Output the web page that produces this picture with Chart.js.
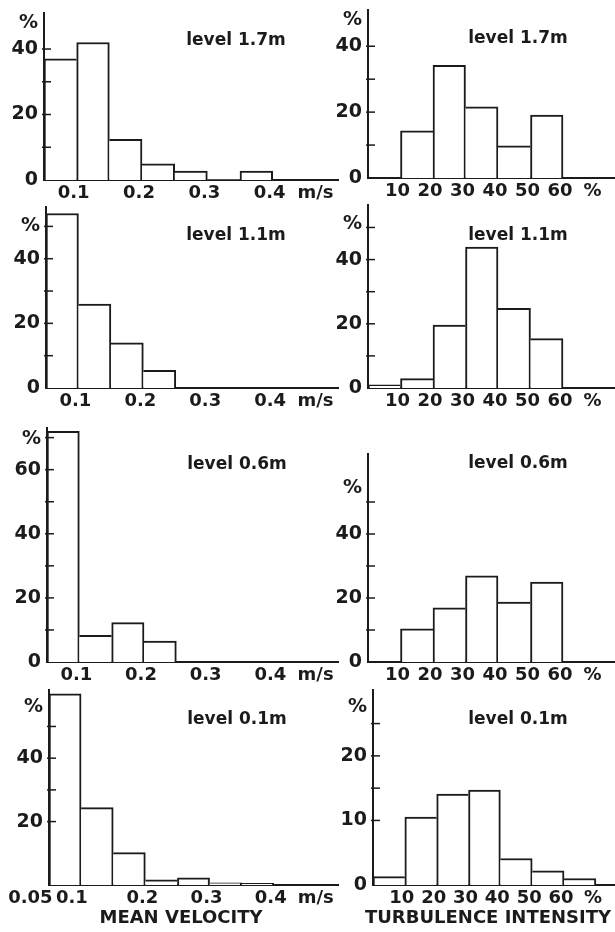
<!DOCTYPE html>
<html>
<head>
<meta charset="utf-8">
<script src="https://cdn.jsdelivr.net/npm/chart.js@4.4.1/dist/chart.umd.min.js"></script>
<style>
  html, body { margin: 0; padding: 0; background: #fff; }
  body { width: 615px; height: 932px; position: relative; overflow: hidden; }
  canvas { position: absolute; }
</style>
</head>
<body>
<script>
// bins (lower edges) and tick labels
const velEdges = [0.05, 0.1, 0.15, 0.2, 0.25, 0.3, 0.35, 0.4];
const turbEdges = [0, 10, 20, 30, 40, 50, 60, 70];
const velTicks = [0.1, 0.2, 0.3, 0.4];
const velTicksLow = [0.05, 0.1, 0.2, 0.3, 0.4];
const turbTicks = [10, 20, 30, 40, 50, 60];
const velUnit = 'm/s';
const turbUnit = '%';
const levels = ['level 1.7m', 'level 1.1m', 'level 0.6m', 'level 0.1m'];
const velAxisTitle = 'MEAN VELOCITY';
const turbAxisTitle = 'TURBULENCE INTENSITY';

// frequencies in %
const vel17 = [37, 42, 12.4, 4.9, 2.7, 0, 2.7];
const vel11 = [54, 26, 14, 5.5];
const vel06 = [72, 8.3, 12.3, 6.5];
const vel01 = [60.3, 24.4, 10.2, 1.6, 2.3, 0.7, 0.5];
const turb17 = [0, 14.3, 34.2, 21.6, 9.8, 19.1];
const turb11 = [1, 2.9, 19.6, 43.9, 24.8, 15.4];
const turb06 = [0, 10.4, 16.9, 26.9, 18.7, 25];
const turb01 = [1.3, 10.5, 14.1, 14.7, 4.1, 2.2, 1.0];

const ink = '#1b1b1b';
const FONT = "'DejaVu Sans', 'Liberation Sans', sans-serif";

// box = canvas [left, top, w, h], area = plot [left, top, right, bottom] in page px
const panels = [
  { kind: 'vel', values: vel17, xTicks: velTicks, title: levels[0], box: [0, 0, 340, 200], area: [44, 13, 338, 180],
    ymax: 51, yLabels: [0, 20, 40], yMarks: [10, 20, 30, 40], unitAt: 48, titlePos: [236, 41] },
  { kind: 'turb', values: turb17, xTicks: turbTicks, title: levels[0], box: [325, 0, 290, 200], area: [368, 10, 615, 178],
    ymax: 51, yLabels: [0, 20, 40], yMarks: [10, 20, 30, 40], unitAt: 48, titlePos: [518, 39] },
  { kind: 'vel', values: vel11, xTicks: velTicks, title: levels[1], box: [0, 198, 340, 217], area: [46, 207, 338, 388],
    ymax: 56, yLabels: [0, 20, 40], yMarks: [10, 20, 30, 40, 50], unitAt: 50, titlePos: [236, 236] },
  { kind: 'turb', values: turb11, xTicks: turbTicks, title: levels[1], box: [325, 198, 290, 217], area: [368, 205, 615, 388],
    ymax: 57, yLabels: [0, 20, 40], yMarks: [10, 20, 30, 40, 50], unitAt: 51, titlePos: [518, 236] },
  { kind: 'vel', values: vel06, xTicks: velTicks, title: levels[2], box: [0, 415, 340, 270], area: [47, 428, 338, 662],
    ymax: 73, yLabels: [0, 20, 40, 60], yMarks: [10, 20, 30, 40, 50, 60, 70], unitAt: 69.6, titlePos: [237, 465] },
  { kind: 'turb', values: turb06, xTicks: turbTicks, title: levels[2], box: [325, 415, 290, 270], area: [368, 454, 615, 662],
    ymax: 65, yLabels: [0, 20, 40], yMarks: [10, 20, 30, 40, 50], unitAt: 54.4, titlePos: [518, 464] },
  { kind: 'vel', values: vel01, xTicks: velTicksLow, title: levels[3], box: [0, 683, 340, 249], area: [49, 690, 338, 885],
    ymax: 61.5, yLabels: [20, 40], yMarks: [20, 30, 40, 50], unitAt: 56, titlePos: [237, 720],
    labelPad: [5, 2], axisTitle: velAxisTitle, axisPos: [181, 918] },
  { kind: 'turb', values: turb01, xTicks: turbTicks, title: levels[3], box: [325, 683, 290, 249], area: [373, 690, 615, 885],
    ymax: 30.2, yLabels: [0, 10, 20], yMarks: [10, 15, 20, 25], unitAt: 27.5, titlePos: [518, 720],
    axisTitle: turbAxisTitle, axisPos: [488, 918] }
];

// draw shared edges only once, from the taller bar
function edgeBorders(ctx) {
  const d = ctx.dataset.data;
  const i = ctx.dataIndex;
  const cur = d[i].y;
  const prev = i > 0 ? d[i - 1].y : 0;
  const next = i < d.length - 1 ? d[i + 1].y : 0;
  return { top: 2, left: cur >= prev ? 2 : 0, right: cur > next ? 2 : 0, bottom: 0 };
}

const panelText = {
  id: 'panelText',
  afterDatasetsDraw(chart, args, o) {
    const { ctx, chartArea } = chart;
    const y = chart.scales.y;
    ctx.save();
    ctx.strokeStyle = ink;
    ctx.lineWidth = 1.5;
    o.marks.forEach(v => {
      const py = y.getPixelForValue(v);
      ctx.beginPath();
      ctx.moveTo(chartArea.left - 2, py);
      ctx.lineTo(chartArea.left + 7, py);
      ctx.stroke();
    });
    ctx.fillStyle = ink;
    ctx.textAlign = 'center';
    ctx.textBaseline = 'middle';
    ctx.font = 'bold 17px ' + FONT;
    ctx.fillText(o.title, o.titleX, o.titleY);
    if (o.axisTitle) {
      ctx.font = 'bold 18px ' + FONT;
      ctx.fillText(o.axisTitle, o.axisX, o.axisY);
    }
    ctx.restore();
  }
};

panels.forEach(p => {
  const [bx, by, bw, bh] = p.box;
  const [al, at, ar, ab] = p.area;
  const isVel = p.kind === 'vel';
  const edges = isVel ? velEdges : turbEdges;
  const step = edges[1] - edges[0];
  const unit = isVel ? velUnit : turbUnit;
  const unitPos = isVel ? 0.47 : 70;
  const pad = p.labelPad || [];

  const canvas = document.createElement('canvas');
  canvas.width = bw;
  canvas.height = bh;
  canvas.style.left = bx + 'px';
  canvas.style.top = by + 'px';
  document.body.appendChild(canvas);

  const points = p.values.map((v, i) => ({ x: edges[i] + step / 2, y: v }));
  const tickFont = size => ({ family: FONT, size: size, weight: 'bold' });

  new Chart(canvas, {
    type: 'bar',
    data: {
      datasets: [{
        data: points,
        backgroundColor: '#fff',
        borderColor: ink,
        borderWidth: edgeBorders,
        borderSkipped: 'start',
        barPercentage: 1,
        categoryPercentage: 1
      }]
    },
    options: {
      responsive: false,
      animation: false,
      events: [],
      layout: { autoPadding: false, padding: { left: 0, top: at - by, right: bx + bw - ar, bottom: 0 } },
      plugins: {
        legend: { display: false },
        tooltip: { enabled: false },
        panelText: {
          marks: p.yMarks,
          title: p.title,
          titleX: p.titlePos[0] - bx,
          titleY: p.titlePos[1] - by,
          axisTitle: p.axisTitle,
          axisX: p.axisPos ? p.axisPos[0] - bx : 0,
          axisY: p.axisPos ? p.axisPos[1] - by : 0
        }
      },
      scales: {
        x: {
          type: 'linear',
          offset: false,
          min: isVel ? 0.05 : 0,
          max: isVel ? 0.5 : 76,
          grid: { display: false, drawTicks: false },
          border: { display: true, color: ink, width: 2 },
          ticks: {
            autoSkip: false, maxRotation: 0, padding: 3, labelOffset: -3,
            color: ink, font: tickFont(18),
            callback: (v, i, t) => i === t.length - 1 ? unit : String(v) + '\u00a0'.repeat(pad[i] || 0)
          },
          afterBuildTicks: s => { s.ticks = p.xTicks.concat(unitPos).map(v => ({ value: v })); },
          afterFit: s => { s.height = by + bh - ab; s.paddingLeft = 0; s.paddingRight = 0; }
        },
        y: {
          min: 0,
          max: p.ymax,
          grid: { display: false, drawTicks: false },
          border: { display: true, color: ink, width: 2 },
          ticks: {
            padding: 6, color: ink, font: tickFont(19),
            callback: (v, i, t) => i === t.length - 1 ? '%' : String(v)
          },
          afterBuildTicks: s => { s.ticks = p.yLabels.concat(p.unitAt).map(v => ({ value: v })); },
          afterFit: s => { s.width = al - bx; s.paddingTop = 0; s.paddingBottom = 0; }
        }
      }
    },
    plugins: [panelText]
  });
});
</script>
</body>
</html>
